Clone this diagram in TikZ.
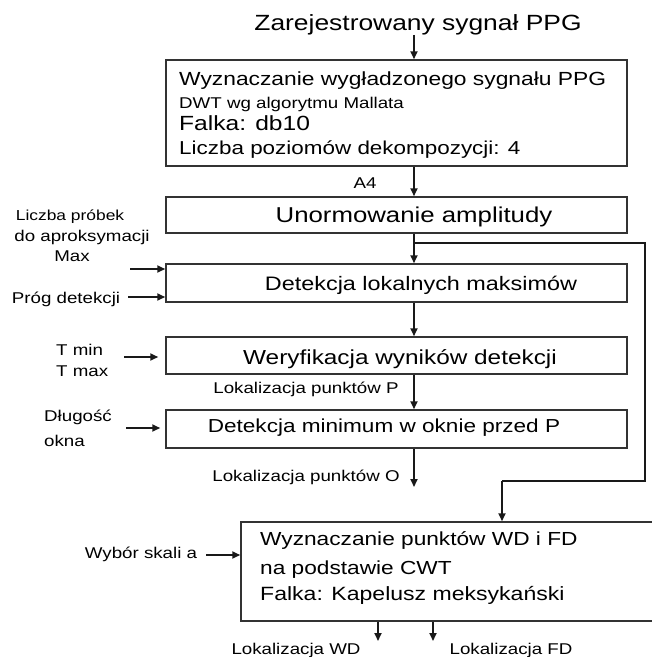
\documentclass[tikz,border=0pt]{standalone}
\usepackage{fontspec}
\setmainfont{Liberation Sans}[FakeStretch=1.2]
\usetikzlibrary{arrows.meta}
\newcommand\fsz[1]{\fontsize{#1}{#1}\selectfont}
\begin{document}
\begin{tikzpicture}[x=1pt,y=-1pt,
  box/.style={draw=black!80, line width=1.5pt, inner sep=0pt, fill=white},
  lbl/.style={inner sep=0pt, font=\fsz{19.5}, text=black},
  slbl/.style={inner sep=0pt, font=\fsz{15.6}, text=black},
  arr/.style={-{Triangle[length=8pt,width=7pt]}, line width=1.8pt, draw=black!90},
  ln/.style={line width=1.8pt, draw=black!90}]
\useasboundingbox (0,0) rectangle (652,657);
% boxes
\node[box, minimum width=461, minimum height=106] (b1) at (396.5,113) {};
\node[box, minimum width=461, minimum height=36] (b2) at (396.5,215) {};
\node[box, minimum width=461, minimum height=38] (b3) at (396.5,283) {};
\node[box, minimum width=461, minimum height=37] (b4) at (396.5,355.5) {};
\node[box, minimum width=461, minimum height=38] (b5) at (396.5,429) {};
\node[box, minimum width=421, minimum height=99] (b6) at (451.5,571.5) {};
% texts
\node[lbl, font=\fsz{22}, anchor=base] (t) at (418,30) {Zarejestrowany sygnał PPG};
\node[lbl, font=\fsz{19}, anchor=base west] (b1a) at (179,85) {Wyznaczanie wygładzonego sygnału PPG};
\node[slbl, anchor=base west] (b1b) at (179,108.5) {DWT wg algorytmu Mallata};
\node[lbl, font=\fsz{20.5}, anchor=base west] (b1c) at (179,130) {Falka: db10};
\node[lbl, font=\fsz{18.7}, anchor=base west] (b1d) at (179,154) {Liczba poziomów dekompozycji: 4};
\node[slbl, anchor=base] (a4) at (365,188) {A4};
\node[lbl, font=\fsz{21.5}, anchor=base] (b2t) at (414,222) {Unormowanie amplitudy};
\node[lbl, anchor=base] (b3t) at (421,290) {Detekcja lokalnych maksimów};
\node[lbl, font=\fsz{20.3}, anchor=base] (b4t) at (400,364) {Weryfikacja wyników detekcji};
\node[lbl, font=\fsz{18.8}, anchor=base] (b5t) at (384,432) {Detekcja minimum w oknie przed P};
\node[lbl, font=\fsz{18.9}, anchor=base west] (b6a) at (260,545) {Wyznaczanie punktów WD i FD};
\node[lbl, font=\fsz{18.9}, anchor=base west] (b6b) at (260,574) {na podstawie CWT};
\node[lbl, font=\fsz{19.2}, anchor=base west] (b6c) at (260,600) {Falka: Kapelusz meksykański};
% side labels
\node[slbl, font=\fsz{14.5}, anchor=base] (l1) at (70,220) {Liczba próbek};
\node[slbl, anchor=base] (l2) at (82,241) {do aproksymacji};
\node[slbl, anchor=base] (l3) at (72,261) {Max};
\node[slbl, anchor=base] (l4) at (66,303) {Próg detekcji};
\node[slbl, anchor=base west] (l5) at (56,355) {T min};
\node[slbl, anchor=base west] (l6) at (56,376) {T max};
\node[slbl, anchor=base west] (l7) at (44,421) {Długość};
\node[slbl, anchor=base west] (l8) at (44,446) {okna};
\node[slbl, anchor=base] (l9) at (141,558) {Wybór skali a};
\node[slbl, anchor=base] (lp) at (306,393) {Lokalizacja punktów P};
\node[slbl, anchor=base] (lo) at (306,481) {Lokalizacja punktów O};
\node[slbl, anchor=base] (lwd) at (296,654) {Lokalizacja WD};
\node[slbl, anchor=base] (lfd) at (511,654) {Lokalizacja FD};
% coordinates
\coordinate (ax) at (414,0);
\coordinate (br) at (414,243);
\coordinate (c1) at (645,243);
\coordinate (c2) at (645,481);
\coordinate (c3) at (502,481);
\coordinate (oend) at (414,487);
\coordinate (i1) at (130,269);
\coordinate (i2) at (128,297);
\coordinate (i3) at (124,357);
\coordinate (i4) at (126,428);
\coordinate (i5) at (206,555);
\coordinate (wd0) at (378,0);
\coordinate (fd0) at (433,0);
\coordinate (wdend) at (378,641);
\coordinate (fdend) at (433,641);
% main connectors
\draw[arr] (t.south -| ax) -- (b1.north -| ax);
\draw[arr] (b1.south -| ax) -- (b2.north -| ax);
\draw[arr] (b2.south -| ax) -- (b3.north -| ax);
\draw[arr] (b3.south -| ax) -- (b4.north -| ax);
\draw[arr] (b4.south -| ax) -- (b5.north -| ax);
\draw[arr] (b5.south -| ax) -- (oend);
\draw[ln] (br) -- (c1) -- (c2) -- (c3);
\draw[arr] (c3) -- (b6.north -| c3);
% input arrows
\draw[arr] (i1) -- (i1 -| b3.west);
\draw[arr] (i2) -- (i2 -| b3.west);
\draw[arr, shorten >=7pt] (i3) -- (i3 -| b4.west);
\draw[arr, shorten >=5pt] (i4) -- (i4 -| b5.west);
\draw[arr] (i5) -- (i5 -| b6.west);
% outputs
\draw[arr] (b6.south -| wd0) -- (wdend);
\draw[arr] (b6.south -| fd0) -- (fdend);
\end{tikzpicture}
\end{document}
